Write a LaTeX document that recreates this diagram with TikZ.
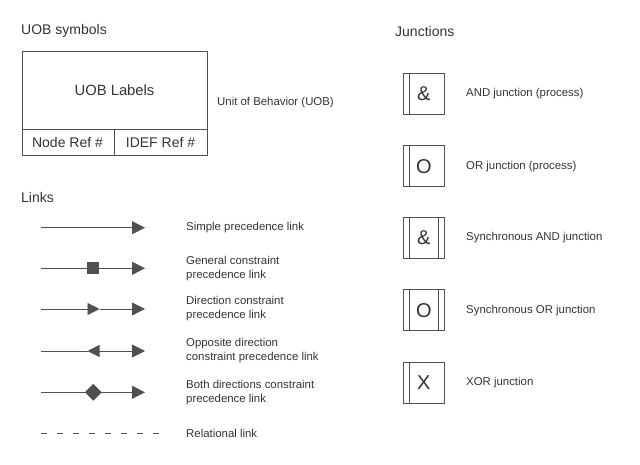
\documentclass[tikz,border=0pt]{standalone}
\usepackage{fontspec}
\setmainfont{Liberation Sans}
\usetikzlibrary{arrows.meta,shapes.geometric}

\definecolor{linegray}{HTML}{505050}
\definecolor{textgray}{HTML}{333333}

\tikzset{
  title/.style={anchor=west, inner sep=0pt, text=textgray, font=\fontsize{14}{16}\selectfont},
  lbl/.style={anchor=west, inner sep=0pt, align=left, text=textgray, font=\fontsize{11.4}{14}\selectfont},
  boxline/.style={draw=linegray, line width=0.8pt},
  lnk/.style={draw=linegray, line width=0.8pt},
  endtip/.style={-{Triangle[length=13pt,width=13pt]}},
  bothtip/.style={{Triangle[length=12pt,width=12pt]}-{Triangle[length=13pt,width=13pt]}},
  midtip/.style={-{Triangle[length=12pt,width=12pt]}},
  sqmark/.style={draw=none, fill=linegray, minimum size=12pt, inner sep=0pt},
  diamark/.style={diamond, draw=none, fill=linegray, minimum width=17pt, minimum height=17pt, inner sep=0pt},
  junc/.style={boxline, minimum size=41pt, inner sep=0pt, text=textgray, font=\fontsize{20}{20}\selectfont}
}

\begin{document}
\begin{tikzpicture}[x=1pt,y=-1pt]

  % Parameters
  \def\xs{41}
  \def\xe{145}
  \def\xm{93.3}
  \def\jx{423.8}
  \def\jbar{6}

  \useasboundingbox (0,0) rectangle (640,464);

  % titles
  \node[title] (tuob) at (21,31) {UOB symbols};
  \node[title] (tlinks) at (21,197) {Links};
  \node[title] (tjunc) at (395,31) {Junctions};

  % UOB box
  \node[boxline, minimum width=185pt, minimum height=103.3pt, inner sep=0pt] (uob) at (114.5,103.35) {};
  \draw[boxline] (22,129) -- (207,129);
  \draw[boxline] (114.3,129) -- (114.3,155);
  \node[text=textgray, font=\fontsize{14.8}{16}\selectfont] (uoblabels) at (114.5,90) {UOB Labels};
  \node[text=textgray, font=\fontsize{14}{16}\selectfont] (noderef) at (67.5,142) {Node Ref \#};
  \node[text=textgray, font=\fontsize{14}{16}\selectfont] (idefref) at (160.5,142) {IDEF Ref \#};
  \node[lbl] (uobtxt) at (217,103) {Unit of Behavior (UOB)};

  % link end points
  \foreach \n/\y in {1/227.7,2/268.3,3/309,4/351,5/392.3} {
    \coordinate (s\n) at (\xs,\y);
    \coordinate (e\n) at (\xe,\y);
  }
  \coordinate (s6) at (\xs,433.3);
  \coordinate (e6) at (159,433.3);

  % simple precedence
  \draw[lnk,endtip] (s1) -- (e1);

  % general constraint
  \draw[lnk,endtip] (s2) -- (e2);
  \node[sqmark] (m2) at (\xm,268.3) {};

  % direction constraint
  \coordinate (m3) at (99.5,309);
  \draw[lnk,midtip] (s3) -- (m3);
  \draw[lnk,endtip] (m3) -- (e3);

  % opposite direction
  \coordinate (m4) at (87.5,351);
  \draw[lnk] (s4) -- (m4);
  \draw[lnk,bothtip] (m4) -- (e4);

  % both directions
  \draw[lnk,endtip] (s5) -- (e5);
  \node[diamark] (m5) at (\xm,392.3) {};

  % relational
  \draw[lnk, dash pattern=on 6pt off 10pt] (s6) -- (e6);

  % link labels
  \node[lbl] (l1) at (186,227.7) {Simple precedence link};
  \node[lbl] (l2) at (186,268.3) {General constraint\\precedence link};
  \node[lbl] (l3) at (186,309) {Direction constraint\\precedence link};
  \node[lbl] (l4) at (186,351) {Opposite direction\\constraint precedence link};
  \node[lbl] (l5) at (186,392.3) {Both directions constraint\\precedence link};
  \node[lbl] (l6) at (186,433.3) {Relational link};

  % junctions
  \foreach \n/\y/\s/\sync/\txt in {1/93.7/{\&}/0/{AND junction (process)},
      2/166.2/O/0/{OR junction (process)},
      3/237.8/{\&}/1/{Synchronous AND junction},
      4/310.2/O/1/{Synchronous OR junction},
      5/382.8/X/0/{XOR junction}} {
    \node[junc] (j\n) at (\jx,\y) {\s};
    \draw[boxline] ([xshift=\jbar pt]j\n.north west) -- ([xshift=\jbar pt]j\n.south west);
    \ifnum\sync=1
      \draw[boxline] ([xshift=-\jbar pt]j\n.north east) -- ([xshift=-\jbar pt]j\n.south east);
    \fi
    \node[lbl] (jl\n) at (466,\y) {\txt};
  }

\end{tikzpicture}
\end{document}
